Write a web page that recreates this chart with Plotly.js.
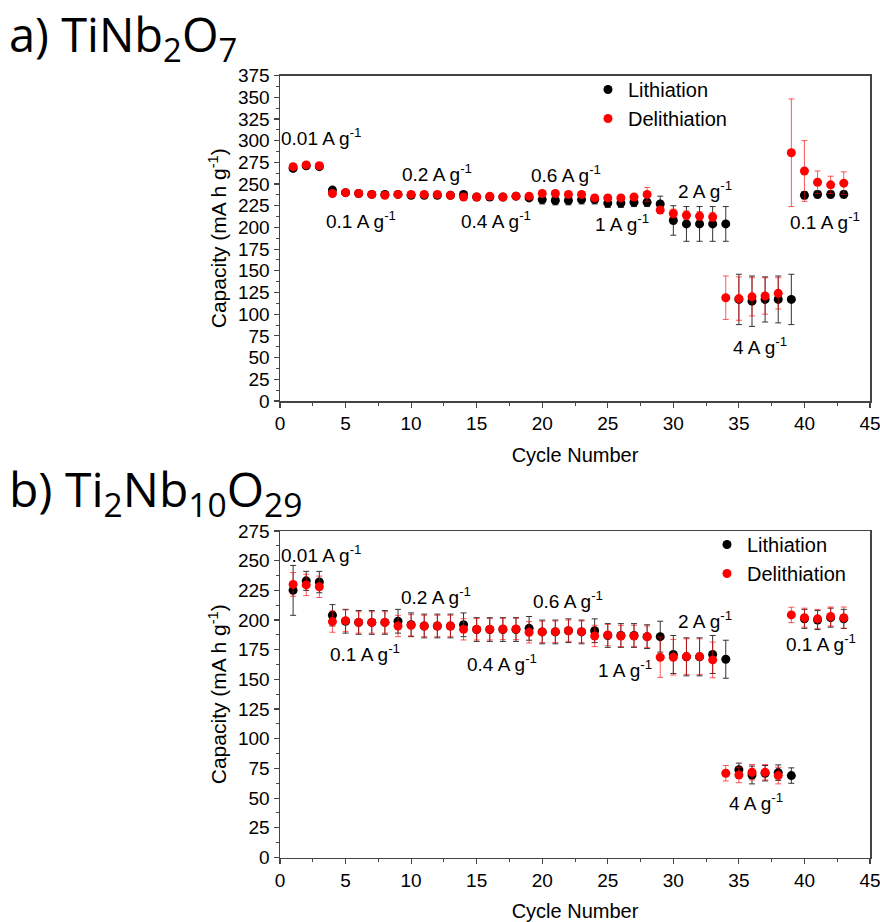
<!DOCTYPE html>
<html>
<head>
<meta charset="utf-8">
<script src="https://cdn.plot.ly/plotly-3.0.1.min.js"></script>
<style>html,body{margin:0;padding:0;background:#fff;}#chart{width:880px;height:922px;}</style>
</head>
<body>
<div id="chart"></div>
<script>
// ---- data ----
const cycles = [1,2,3,4,5,6,7,8,9,10,11,12,13,14,15,16,17,18,19,20,21,22,23,24,25,26,27,28,29,30,31,32,33,34,35,36,37,38,39,40,41,42,43];

// a) TiNb2O7
const liTop    = [268,271,270,243,240,239,238,238,238,237,237,237,237,238,235,235,235,236,234,232,231,231,232,232,228,228,229,229,227,208,204,204,204,204,117,115,117,117,117,237,238,238,238];
const liTopErr = [3,3,3,3,3,3,3,3,3,3,3,3,3,3,3,3,3,3,3,5,5,5,5,5,5,5,5,5,9,17,20,20,20,20,29,29,26,27,29,4,4,4,4];
const deTop    = [270,272,271,239,240,239,238,237,238,238,238,238,237,235,235,236,235,236,236,239,239,238,238,234,234,234,235,238,220,216,214,213,212,119,118,120,121,124,286,265,252,249,251];
const deTopErr = [3,3,3,3,3,3,3,3,3,3,3,3,3,3,3,3,3,3,3,3,3,3,3,3,3,3,3,8,4,5,5,5,5,25,25,22,21,18,62,35,13,10,13];

// b) Ti2Nb10O29
const liBot    = [225,233,232,204,199,198,198,198,199,196,195,195,195,196,192,192,192,192,193,190,190,191,190,191,187,187,187,186,186,171,169,169,171,167,74,69.5,71,71.5,69,201,200,202,201];
const liBotErr = [21,8,9,9,10,10,10,10,10,10,10,10,10,10,10,10,10,10,10,10,10,10,10,10,10,10,10,10,13,16,16,16,16,16,5.5,7.5,6.5,6.5,6.5,8,8,8,8];
const deBot    = [230,229.6,228,198.7,199.5,198,198,198,195,195.6,195,195,195,192.2,192.2,192.2,192.5,192.5,189.7,190,190.2,191,190.2,186.6,187.4,186.6,186.6,186,168.7,168.7,169.2,169.2,166.4,71,69.5,71.8,71.8,69,204.3,202,201,203,202];
const deBotErr = [10,9,9,9,9,9,9,9,9,9,9,9,9,9,9,9,9,9,9,9,9,9,9,9,9,9,9,9,17,15,15,15,15,6.5,6.5,6.5,6.5,7,6.5,8,8,8,9];

// rate labels
const rateLabels = ["0.01 A g<sup>-1</sup>","0.1 A g<sup>-1</sup>","0.2 A g<sup>-1</sup>","0.4 A g<sup>-1</sup>","0.6 A g<sup>-1</sup>","1 A g<sup>-1</sup>","2 A g<sup>-1</sup>","4 A g<sup>-1</sup>","0.1 A g<sup>-1</sup>"];
const seriesNames = ["Lithiation","Delithiation"];

// ---- styling / layout ----
const FONT = "Arial";
const TITLEFONT = "Open Sans";
const markerSize = 9;

function trace(y, err, name, color, errColor, xa, ya, legend, showlegend){
  return {
    x: cycles, y: y, name: name, type: 'scatter', mode: 'markers',
    xaxis: xa, yaxis: ya, legend: legend, showlegend: showlegend,
    marker: {color: color, size: markerSize},
    error_y: {type: 'data', array: err, visible: true, color: errColor, thickness: 1, width: 3}
  };
}

const data = [
  trace(liTop, liTopErr, seriesNames[0], '#000000', '#333333', 'x', 'y', 'legend', true),
  trace(deTop, deTopErr, seriesNames[1], '#ff0000', 'rgba(255,0,0,0.65)', 'x', 'y', 'legend', true),
  trace(liBot, liBotErr, seriesNames[0], '#000000', '#333333', 'x2', 'y2', 'legend2', true),
  trace(deBot, deBotErr, seriesNames[1], '#ff0000', 'rgba(255,0,0,0.65)', 'x2', 'y2', 'legend2', true)
];

const W = 880, H = 922;
const xDom = [280/W, 870/W];
const yDomTop = [1 - 401/H, 1 - 75.5/H];
const yDomBot = [1 - 857.5/H, 1 - 531/H];

function xaxis(anchor, domain){
  return {
    domain: domain, anchor: anchor, range: [0,45], dtick: 5, tick0: 0,
    showline: true, linecolor: '#444', linewidth: 1.5, mirror: true,
    ticks: 'outside', ticklen: 5, tickwidth: 1.2, tickcolor: '#444',
    minor: {ticks: 'outside', ticklen: 3, dtick: 2.5, tickcolor: '#444', tickwidth: 1},
    showgrid: false, zeroline: false, ticklabeloverflow: 'allow',
    tickfont: {family: FONT, size: 19, color: '#000'},
    title: {text: 'Cycle Number', font: {family: FONT, size: 20, color: '#000'}, standoff: 14}
  };
}
function yaxis(anchor, domain, max){
  return {
    domain: domain, anchor: anchor, range: [0,max], dtick: 25, tick0: 0,
    showline: true, linecolor: '#444', linewidth: 1.5, mirror: true,
    ticks: 'outside', ticklen: 5, tickwidth: 1.2, tickcolor: '#444',
    minor: {ticks: 'outside', ticklen: 3, dtick: 12.5, tickcolor: '#444', tickwidth: 1},
    showgrid: false, zeroline: false,
    tickfont: {family: FONT, size: 19, color: '#000'},
    title: {text: 'Capacity (mA h g<sup>-1</sup>)', font: {family: FONT, size: 21, color: '#000'}, standoff: 5}
  };
}

const topPos = [[3.2,304],[6.2,209],[12.0,263],[16.5,209],[21.8,261],[26.1,205],[32.4,243],[36.6,63],[41.6,207]];
const botPos = [[3.2,256],[6.5,172],[11.9,220],[16.9,164],[22.0,217],[26.3,159],[32.4,200],[36.3,47],[41.3,180.5]];

const annotations = [];
rateLabels.forEach((t,i)=>{
  annotations.push({text: t, x: topPos[i][0], y: topPos[i][1], xref:'x', yref:'y', showarrow:false,
    xanchor:'center', yanchor:'middle', font:{family: FONT, size: 19, color:'#000'}});
  annotations.push({text: t, x: botPos[i][0], y: botPos[i][1], xref:'x2', yref:'y2', showarrow:false,
    xanchor:'center', yanchor:'middle', font:{family: FONT, size: 19, color:'#000'}});
});
annotations.push({text: 'a) TiNb<sub>2</sub>O<sub>7</sub>', xref:'paper', yref:'paper', x: 7/W, y: 1,
  xanchor:'left', yanchor:'top', showarrow:false, font:{family: TITLEFONT, size: 47, color:'#000'}});
annotations.push({text: 'b) Ti<sub>2</sub>Nb<sub>10</sub>O<sub>29</sub>', xref:'paper', yref:'paper', x: 7/W, y: 1 - 454/H,
  xanchor:'left', yanchor:'top', showarrow:false, font:{family: TITLEFONT, size: 48, color:'#000'}});

const layout = {
  width: W, height: H,
  margin: {l:0, r:0, t:0, b:0},
  paper_bgcolor: '#fff', plot_bgcolor: '#fff',
  showlegend: true,
  xaxis: xaxis('y', xDom),
  yaxis: yaxis('x', yDomTop, 375),
  xaxis2: xaxis('y2', xDom),
  yaxis2: yaxis('x2', yDomBot, 275),
  legend: {x: 588/W, y: 1 - 70/H, xanchor:'left', yanchor:'top', bgcolor:'rgba(0,0,0,0)',
    font:{family: FONT, size: 20, color:'#000'}, tracegroupgap: 0},
  legend2: {x: 707/W, y: 1 - 525/H, xanchor:'left', yanchor:'top', bgcolor:'rgba(0,0,0,0)',
    font:{family: FONT, size: 20, color:'#000'}, tracegroupgap: 0},
  annotations: annotations
};

Plotly.newPlot('chart', data, layout, {displayModeBar: false, staticPlot: true});
</script>
</body>
</html>
